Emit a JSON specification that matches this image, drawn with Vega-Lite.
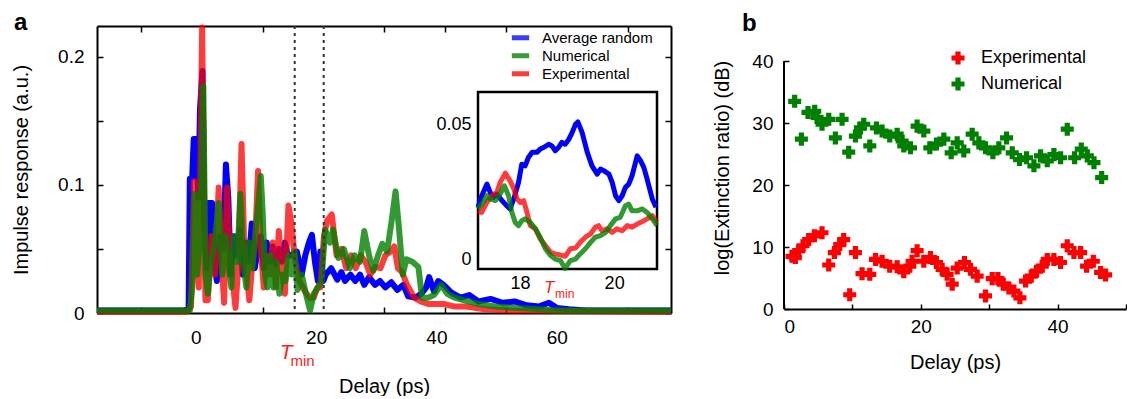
{
"$schema": "https://vega.github.io/schema/vega-lite/v6.json",
"background": "white",
"padding": {"left": 11, "top": 10, "right": 0, "bottom": 0},
"bounds": "flush",
"spacing": 113,
"config": {
  "font": "Liberation Sans",
  "view": {"stroke": null},
  "axis": {"domainColor": "black", "domainWidth": 2, "tickColor": "black", "tickWidth": 1.5, "labelColor": "black", "titleColor": "black", "labelFontSize": 19, "titleFontSize": 20, "titleFontWeight": "normal", "grid": false, "labelFont": "Liberation Sans", "titleFont": "Liberation Sans"},
  "legend": {"labelFont": "Liberation Sans", "labelColor": "black"},
  "title": {"font": "Liberation Sans", "color": "black"}
},
"datasets": {
  "curves": [
    {"delay":-16.43,"value":0.002,"series":"Average random"},{"delay":-2,"value":0.002,"series":"Average random"},{"delay":-1.2,"value":0.003,"series":"Average random"},{"delay":-1.0,"value":0.105,"series":"Average random"},{"delay":-0.6,"value":0.106,"series":"Average random"},{"delay":-0.35,"value":0.136,"series":"Average random"},{"delay":0.1,"value":0.136,"series":"Average random"},{"delay":0.4,"value":0.09,"series":"Average random"},{"delay":0.7,"value":0.16,"series":"Average random"},{"delay":1.1,"value":0.189,"series":"Average random"},{"delay":1.4,"value":0.07,"series":"Average random"},{"delay":1.8,"value":0.035,"series":"Average random"},{"delay":2.1,"value":0.086,"series":"Average random"},{"delay":2.7,"value":0.086,"series":"Average random"},{"delay":3.0,"value":0.04,"series":"Average random"},{"delay":3.5,"value":0.025,"series":"Average random"},{"delay":4.0,"value":0.06,"series":"Average random"},{"delay":4.6,"value":0.05,"series":"Average random"},{"delay":5.0,"value":0.116,"series":"Average random"},{"delay":5.4,"value":0.09,"series":"Average random"},{"delay":5.8,"value":0.03,"series":"Average random"},{"delay":6.3,"value":0.06,"series":"Average random"},{"delay":6.8,"value":0.045,"series":"Average random"},{"delay":7.3,"value":0.065,"series":"Average random"},{"delay":7.8,"value":0.03,"series":"Average random"},{"delay":8.3,"value":0.055,"series":"Average random"},{"delay":8.8,"value":0.04,"series":"Average random"},{"delay":9.3,"value":0.07,"series":"Average random"},{"delay":9.8,"value":0.035,"series":"Average random"},{"delay":10.3,"value":0.05,"series":"Average random"},{"delay":10.8,"value":0.06,"series":"Average random"},{"delay":11.3,"value":0.035,"series":"Average random"},{"delay":11.8,"value":0.055,"series":"Average random"},{"delay":12.3,"value":0.04,"series":"Average random"},{"delay":12.8,"value":0.052,"series":"Average random"},{"delay":13.3,"value":0.038,"series":"Average random"},{"delay":13.8,"value":0.05,"series":"Average random"},{"delay":14.3,"value":0.04,"series":"Average random"},{"delay":14.8,"value":0.055,"series":"Average random"},{"delay":15.3,"value":0.045,"series":"Average random"},{"delay":15.8,"value":0.045,"series":"Average random"},{"delay":16.8,"value":0.048,"series":"Average random"},{"delay":17.6,"value":0.03,"series":"Average random"},{"delay":18.2,"value":0.045,"series":"Average random"},{"delay":18.8,"value":0.055,"series":"Average random"},{"delay":19.3,"value":0.061,"series":"Average random"},{"delay":19.8,"value":0.04,"series":"Average random"},{"delay":20.3,"value":0.025,"series":"Average random"},{"delay":20.7,"value":0.048,"series":"Average random"},{"delay":21.2,"value":0.025,"series":"Average random"},{"delay":21.6,"value":0.03,"series":"Average random"},{"delay":22.5,"value":0.035,"series":"Average random"},{"delay":23.5,"value":0.026,"series":"Average random"},{"delay":24.2,"value":0.032,"series":"Average random"},{"delay":24.8,"value":0.025,"series":"Average random"},{"delay":25.7,"value":0.03,"series":"Average random"},{"delay":26.5,"value":0.025,"series":"Average random"},{"delay":27.3,"value":0.03,"series":"Average random"},{"delay":28.0,"value":0.022,"series":"Average random"},{"delay":28.8,"value":0.028,"series":"Average random"},{"delay":29.8,"value":0.022,"series":"Average random"},{"delay":30.6,"value":0.025,"series":"Average random"},{"delay":31.5,"value":0.02,"series":"Average random"},{"delay":32.5,"value":0.024,"series":"Average random"},{"delay":33.5,"value":0.018,"series":"Average random"},{"delay":34.5,"value":0.022,"series":"Average random"},{"delay":35.3,"value":0.013,"series":"Average random"},{"delay":36.5,"value":0.012,"series":"Average random"},{"delay":37.5,"value":0.015,"series":"Average random"},{"delay":38.3,"value":0.02,"series":"Average random"},{"delay":38.8,"value":0.028,"series":"Average random"},{"delay":39.6,"value":0.017,"series":"Average random"},{"delay":40.3,"value":0.025,"series":"Average random"},{"delay":41.2,"value":0.022,"series":"Average random"},{"delay":42.5,"value":0.016,"series":"Average random"},{"delay":44,"value":0.012,"series":"Average random"},{"delay":45.5,"value":0.014,"series":"Average random"},{"delay":47,"value":0.009,"series":"Average random"},{"delay":49,"value":0.011,"series":"Average random"},{"delay":51,"value":0.008,"series":"Average random"},{"delay":53,"value":0.009,"series":"Average random"},{"delay":55,"value":0.006,"series":"Average random"},{"delay":57,"value":0.005,"series":"Average random"},{"delay":58.7,"value":0.008,"series":"Average random"},{"delay":60,"value":0.004,"series":"Average random"},{"delay":62,"value":0.003,"series":"Average random"},{"delay":65,"value":0.002,"series":"Average random"},{"delay":79,"value":0.002,"series":"Average random"},
    {"delay":-16.43,"value":0.001,"series":"Experimental"},{"delay":-1.5,"value":0.001,"series":"Experimental"},{"delay":-0.8,"value":0.005,"series":"Experimental"},{"delay":-0.5,"value":0.06,"series":"Experimental"},{"delay":-0.3,"value":0.103,"series":"Experimental"},{"delay":0.1,"value":0.04,"series":"Experimental"},{"delay":0.5,"value":0.02,"series":"Experimental"},{"delay":0.85,"value":0.15,"series":"Experimental"},{"delay":1.05,"value":0.223,"series":"Experimental"},{"delay":1.3,"value":0.12,"series":"Experimental"},{"delay":1.6,"value":0.01,"series":"Experimental"},{"delay":2.0,"value":0.01,"series":"Experimental"},{"delay":2.6,"value":0.06,"series":"Experimental"},{"delay":3.2,"value":0.03,"series":"Experimental"},{"delay":3.8,"value":0.098,"series":"Experimental"},{"delay":4.3,"value":0.04,"series":"Experimental"},{"delay":4.7,"value":0.008,"series":"Experimental"},{"delay":5.2,"value":0.098,"series":"Experimental"},{"delay":5.6,"value":0.05,"series":"Experimental"},{"delay":6.0,"value":0.03,"series":"Experimental"},{"delay":6.6,"value":0.004,"series":"Experimental"},{"delay":7.1,"value":0.04,"series":"Experimental"},{"delay":7.6,"value":0.132,"series":"Experimental"},{"delay":8.0,"value":0.06,"series":"Experimental"},{"delay":8.5,"value":0.03,"series":"Experimental"},{"delay":8.9,"value":0.01,"series":"Experimental"},{"delay":9.4,"value":0.04,"series":"Experimental"},{"delay":9.9,"value":0.06,"series":"Experimental"},{"delay":10.35,"value":0.111,"series":"Experimental"},{"delay":10.8,"value":0.05,"series":"Experimental"},{"delay":11.3,"value":0.02,"series":"Experimental"},{"delay":11.8,"value":0.045,"series":"Experimental"},{"delay":12.3,"value":0.03,"series":"Experimental"},{"delay":12.8,"value":0.055,"series":"Experimental"},{"delay":13.3,"value":0.02,"series":"Experimental"},{"delay":13.8,"value":0.064,"series":"Experimental"},{"delay":14.3,"value":0.035,"series":"Experimental"},{"delay":14.8,"value":0.015,"series":"Experimental"},{"delay":15.4,"value":0.084,"series":"Experimental"},{"delay":15.9,"value":0.07,"series":"Experimental"},{"delay":16.5,"value":0.041,"series":"Experimental"},{"delay":17.2,"value":0.025,"series":"Experimental"},{"delay":18.0,"value":0.018,"series":"Experimental"},{"delay":18.9,"value":0.012,"series":"Experimental"},{"delay":19.6,"value":0.012,"series":"Experimental"},{"delay":20.2,"value":0.02,"series":"Experimental"},{"delay":20.7,"value":0.02,"series":"Experimental"},{"delay":21.3,"value":0.06,"series":"Experimental"},{"delay":21.8,"value":0.072,"series":"Experimental"},{"delay":22.6,"value":0.077,"series":"Experimental"},{"delay":23.4,"value":0.045,"series":"Experimental"},{"delay":24.2,"value":0.05,"series":"Experimental"},{"delay":25.0,"value":0.035,"series":"Experimental"},{"delay":25.8,"value":0.045,"series":"Experimental"},{"delay":26.6,"value":0.035,"series":"Experimental"},{"delay":27.4,"value":0.045,"series":"Experimental"},{"delay":28.2,"value":0.04,"series":"Experimental"},{"delay":29.0,"value":0.03,"series":"Experimental"},{"delay":29.8,"value":0.036,"series":"Experimental"},{"delay":30.7,"value":0.035,"series":"Experimental"},{"delay":31.5,"value":0.045,"series":"Experimental"},{"delay":32.4,"value":0.048,"series":"Experimental"},{"delay":33.0,"value":0.052,"series":"Experimental"},{"delay":33.6,"value":0.035,"series":"Experimental"},{"delay":34.3,"value":0.032,"series":"Experimental"},{"delay":35.1,"value":0.022,"series":"Experimental"},{"delay":35.6,"value":0.018,"series":"Experimental"},{"delay":36.3,"value":0.012,"series":"Experimental"},{"delay":37.4,"value":0.009,"series":"Experimental"},{"delay":38.6,"value":0.007,"series":"Experimental"},{"delay":40,"value":0.007,"series":"Experimental"},{"delay":41.4,"value":0.007,"series":"Experimental"},{"delay":43,"value":0.005,"series":"Experimental"},{"delay":45,"value":0.005,"series":"Experimental"},{"delay":48,"value":0.003,"series":"Experimental"},{"delay":52,"value":0.002,"series":"Experimental"},{"delay":79,"value":0.001,"series":"Experimental"},
    {"delay":-16.43,"value":0.002,"series":"Numerical"},{"delay":-1.0,"value":0.002,"series":"Numerical"},{"delay":-0.6,"value":0.02,"series":"Numerical"},{"delay":-0.2,"value":0.093,"series":"Numerical"},{"delay":0.2,"value":0.03,"series":"Numerical"},{"delay":0.6,"value":0.05,"series":"Numerical"},{"delay":1.0,"value":0.12,"series":"Numerical"},{"delay":1.25,"value":0.177,"series":"Numerical"},{"delay":1.6,"value":0.03,"series":"Numerical"},{"delay":2.0,"value":0.015,"series":"Numerical"},{"delay":2.5,"value":0.04,"series":"Numerical"},{"delay":3.0,"value":0.05,"series":"Numerical"},{"delay":3.8,"value":0.086,"series":"Numerical"},{"delay":4.4,"value":0.03,"series":"Numerical"},{"delay":4.9,"value":0.06,"series":"Numerical"},{"delay":5.4,"value":0.04,"series":"Numerical"},{"delay":5.9,"value":0.02,"series":"Numerical"},{"delay":6.4,"value":0.06,"series":"Numerical"},{"delay":6.9,"value":0.04,"series":"Numerical"},{"delay":7.4,"value":0.093,"series":"Numerical"},{"delay":7.9,"value":0.04,"series":"Numerical"},{"delay":8.4,"value":0.02,"series":"Numerical"},{"delay":8.9,"value":0.055,"series":"Numerical"},{"delay":9.4,"value":0.035,"series":"Numerical"},{"delay":9.9,"value":0.06,"series":"Numerical"},{"delay":10.8,"value":0.107,"series":"Numerical"},{"delay":11.1,"value":0.08,"series":"Numerical"},{"delay":11.5,"value":0.03,"series":"Numerical"},{"delay":11.9,"value":0.02,"series":"Numerical"},{"delay":12.4,"value":0.045,"series":"Numerical"},{"delay":12.9,"value":0.02,"series":"Numerical"},{"delay":13.4,"value":0.04,"series":"Numerical"},{"delay":13.9,"value":0.015,"series":"Numerical"},{"delay":14.4,"value":0.03,"series":"Numerical"},{"delay":14.9,"value":0.025,"series":"Numerical"},{"delay":15.4,"value":0.045,"series":"Numerical"},{"delay":15.9,"value":0.03,"series":"Numerical"},{"delay":16.4,"value":0.048,"series":"Numerical"},{"delay":16.9,"value":0.018,"series":"Numerical"},{"delay":17.6,"value":0.03,"series":"Numerical"},{"delay":18.3,"value":0.015,"series":"Numerical"},{"delay":19.0,"value":0.002,"series":"Numerical"},{"delay":19.6,"value":0.015,"series":"Numerical"},{"delay":20.3,"value":0.02,"series":"Numerical"},{"delay":20.9,"value":0.025,"series":"Numerical"},{"delay":21.5,"value":0.065,"series":"Numerical"},{"delay":22.3,"value":0.055,"series":"Numerical"},{"delay":22.8,"value":0.065,"series":"Numerical"},{"delay":23.7,"value":0.043,"series":"Numerical"},{"delay":24.6,"value":0.05,"series":"Numerical"},{"delay":25.6,"value":0.035,"series":"Numerical"},{"delay":26.4,"value":0.045,"series":"Numerical"},{"delay":27.3,"value":0.04,"series":"Numerical"},{"delay":28.0,"value":0.064,"series":"Numerical"},{"delay":28.8,"value":0.045,"series":"Numerical"},{"delay":29.5,"value":0.033,"series":"Numerical"},{"delay":30.3,"value":0.045,"series":"Numerical"},{"delay":31.0,"value":0.054,"series":"Numerical"},{"delay":31.8,"value":0.048,"series":"Numerical"},{"delay":32.5,"value":0.07,"series":"Numerical"},{"delay":33.2,"value":0.095,"series":"Numerical"},{"delay":33.8,"value":0.065,"series":"Numerical"},{"delay":34.4,"value":0.03,"series":"Numerical"},{"delay":35.0,"value":0.042,"series":"Numerical"},{"delay":36.0,"value":0.04,"series":"Numerical"},{"delay":37.0,"value":0.036,"series":"Numerical"},{"delay":37.6,"value":0.012,"series":"Numerical"},{"delay":38.6,"value":0.012,"series":"Numerical"},{"delay":39.6,"value":0.014,"series":"Numerical"},{"delay":40.8,"value":0.022,"series":"Numerical"},{"delay":41.8,"value":0.015,"series":"Numerical"},{"delay":43.0,"value":0.012,"series":"Numerical"},{"delay":44.5,"value":0.01,"series":"Numerical"},{"delay":47,"value":0.007,"series":"Numerical"},{"delay":50,"value":0.005,"series":"Numerical"},{"delay":53,"value":0.004,"series":"Numerical"},{"delay":57,"value":0.003,"series":"Numerical"},{"delay":60,"value":0.002,"series":"Numerical"},{"delay":79,"value":0.002,"series":"Numerical"}
  ],
  "inset": [
    {"delay":17.11,"value":0.0194,"series":"Average random"},{"delay":17.19,"value":0.0237,"series":"Average random"},{"delay":17.30,"value":0.028,"series":"Average random"},{"delay":17.37,"value":0.0249,"series":"Average random"},{"delay":17.44,"value":0.0231,"series":"Average random"},{"delay":17.51,"value":0.0243,"series":"Average random"},{"delay":17.62,"value":0.0219,"series":"Average random"},{"delay":17.72,"value":0.02,"series":"Average random"},{"delay":17.79,"value":0.0188,"series":"Average random"},{"delay":17.87,"value":0.0225,"series":"Average random"},{"delay":17.97,"value":0.0286,"series":"Average random"},{"delay":18.04,"value":0.0354,"series":"Average random"},{"delay":18.11,"value":0.0348,"series":"Average random"},{"delay":18.18,"value":0.0379,"series":"Average random"},{"delay":18.26,"value":0.0398,"series":"Average random"},{"delay":18.36,"value":0.0398,"series":"Average random"},{"delay":18.43,"value":0.041,"series":"Average random"},{"delay":18.50,"value":0.0416,"series":"Average random"},{"delay":18.61,"value":0.0428,"series":"Average random"},{"delay":18.68,"value":0.0422,"series":"Average random"},{"delay":18.75,"value":0.0404,"series":"Average random"},{"delay":18.82,"value":0.0416,"series":"Average random"},{"delay":18.89,"value":0.0435,"series":"Average random"},{"delay":18.96,"value":0.0428,"series":"Average random"},{"delay":19.04,"value":0.0447,"series":"Average random"},{"delay":19.11,"value":0.0472,"series":"Average random"},{"delay":19.18,"value":0.0502,"series":"Average random"},{"delay":19.23,"value":0.0511,"series":"Average random"},{"delay":19.32,"value":0.0472,"series":"Average random"},{"delay":19.43,"value":0.0398,"series":"Average random"},{"delay":19.53,"value":0.0348,"series":"Average random"},{"delay":19.64,"value":0.0317,"series":"Average random"},{"delay":19.71,"value":0.0336,"series":"Average random"},{"delay":19.78,"value":0.033,"series":"Average random"},{"delay":19.89,"value":0.0317,"series":"Average random"},{"delay":19.96,"value":0.0286,"series":"Average random"},{"delay":20.03,"value":0.0237,"series":"Average random"},{"delay":20.10,"value":0.0219,"series":"Average random"},{"delay":20.17,"value":0.0237,"series":"Average random"},{"delay":20.24,"value":0.0268,"series":"Average random"},{"delay":20.31,"value":0.028,"series":"Average random"},{"delay":20.38,"value":0.0311,"series":"Average random"},{"delay":20.49,"value":0.0385,"series":"Average random"},{"delay":20.56,"value":0.0367,"series":"Average random"},{"delay":20.63,"value":0.0342,"series":"Average random"},{"delay":20.70,"value":0.0299,"series":"Average random"},{"delay":20.81,"value":0.0225,"series":"Average random"},{"delay":20.89,"value":0.0194,"series":"Average random"},
    {"delay":17.11,"value":0.0181,"series":"Experimental"},{"delay":17.19,"value":0.0175,"series":"Experimental"},{"delay":17.30,"value":0.0212,"series":"Experimental"},{"delay":17.40,"value":0.0237,"series":"Experimental"},{"delay":17.51,"value":0.0249,"series":"Experimental"},{"delay":17.58,"value":0.0286,"series":"Experimental"},{"delay":17.69,"value":0.0321,"series":"Experimental"},{"delay":17.79,"value":0.0293,"series":"Experimental"},{"delay":17.87,"value":0.0262,"series":"Experimental"},{"delay":17.94,"value":0.0225,"series":"Experimental"},{"delay":18.01,"value":0.0212,"series":"Experimental"},{"delay":18.08,"value":0.0219,"series":"Experimental"},{"delay":18.15,"value":0.0175,"series":"Experimental"},{"delay":18.22,"value":0.0126,"series":"Experimental"},{"delay":18.33,"value":0.0114,"series":"Experimental"},{"delay":18.43,"value":0.0077,"series":"Experimental"},{"delay":18.54,"value":0.0052,"series":"Experimental"},{"delay":18.65,"value":0.0027,"series":"Experimental"},{"delay":18.75,"value":0.0021,"series":"Experimental"},{"delay":18.86,"value":0.0017,"series":"Experimental"},{"delay":18.96,"value":0.0012,"series":"Experimental"},{"delay":19.07,"value":0.004,"series":"Experimental"},{"delay":19.18,"value":0.0043,"series":"Experimental"},{"delay":19.28,"value":0.0064,"series":"Experimental"},{"delay":19.39,"value":0.0083,"series":"Experimental"},{"delay":19.50,"value":0.0095,"series":"Experimental"},{"delay":19.60,"value":0.012,"series":"Experimental"},{"delay":19.67,"value":0.0126,"series":"Experimental"},{"delay":19.74,"value":0.0107,"series":"Experimental"},{"delay":19.85,"value":0.0114,"series":"Experimental"},{"delay":19.96,"value":0.0101,"series":"Experimental"},{"delay":20.06,"value":0.0114,"series":"Experimental"},{"delay":20.17,"value":0.0107,"series":"Experimental"},{"delay":20.28,"value":0.0126,"series":"Experimental"},{"delay":20.38,"value":0.012,"series":"Experimental"},{"delay":20.49,"value":0.0132,"series":"Experimental"},{"delay":20.60,"value":0.0141,"series":"Experimental"},{"delay":20.70,"value":0.0151,"series":"Experimental"},{"delay":20.81,"value":0.0163,"series":"Experimental"},{"delay":20.91,"value":0.0138,"series":"Experimental"},
    {"delay":17.11,"value":0.0188,"series":"Numerical"},{"delay":17.19,"value":0.0206,"series":"Numerical"},{"delay":17.30,"value":0.0237,"series":"Numerical"},{"delay":17.37,"value":0.0225,"series":"Numerical"},{"delay":17.48,"value":0.0219,"series":"Numerical"},{"delay":17.58,"value":0.0243,"series":"Numerical"},{"delay":17.67,"value":0.0274,"series":"Numerical"},{"delay":17.76,"value":0.0237,"series":"Numerical"},{"delay":17.83,"value":0.0175,"series":"Numerical"},{"delay":17.90,"value":0.0138,"series":"Numerical"},{"delay":17.97,"value":0.0126,"series":"Numerical"},{"delay":18.04,"value":0.0144,"series":"Numerical"},{"delay":18.11,"value":0.0151,"series":"Numerical"},{"delay":18.22,"value":0.0138,"series":"Numerical"},{"delay":18.33,"value":0.0114,"series":"Numerical"},{"delay":18.43,"value":0.0083,"series":"Numerical"},{"delay":18.54,"value":0.004,"series":"Numerical"},{"delay":18.65,"value":0.0015,"series":"Numerical"},{"delay":18.75,"value":0.0002,"series":"Numerical"},{"delay":18.86,"value":-0.0004,"series":"Numerical"},{"delay":18.96,"value":-0.0033,"series":"Numerical"},{"delay":19.07,"value":-0.0004,"series":"Numerical"},{"delay":19.18,"value":0.0002,"series":"Numerical"},{"delay":19.28,"value":0.0021,"series":"Numerical"},{"delay":19.39,"value":0.004,"series":"Numerical"},{"delay":19.50,"value":0.0064,"series":"Numerical"},{"delay":19.60,"value":0.0083,"series":"Numerical"},{"delay":19.71,"value":0.0089,"series":"Numerical"},{"delay":19.82,"value":0.0101,"series":"Numerical"},{"delay":19.92,"value":0.0126,"series":"Numerical"},{"delay":20.03,"value":0.0151,"series":"Numerical"},{"delay":20.13,"value":0.0157,"series":"Numerical"},{"delay":20.24,"value":0.02,"series":"Numerical"},{"delay":20.31,"value":0.0206,"series":"Numerical"},{"delay":20.38,"value":0.0181,"series":"Numerical"},{"delay":20.49,"value":0.0181,"series":"Numerical"},{"delay":20.60,"value":0.0188,"series":"Numerical"},{"delay":20.70,"value":0.0175,"series":"Numerical"},{"delay":20.81,"value":0.0151,"series":"Numerical"},{"delay":20.91,"value":0.0126,"series":"Numerical"}
  ],
  "ratio": [
    {"delay":1.17,"db":8.5,"series":"Experimental"},{"delay":1.66,"db":8.3,"series":"Experimental"},{"delay":2.15,"db":9.4,"series":"Experimental"},{"delay":2.78,"db":10.2,"series":"Experimental"},{"delay":3.61,"db":11.2,"series":"Experimental"},{"delay":4.44,"db":11.8,"series":"Experimental"},{"delay":5.56,"db":12.3,"series":"Experimental"},{"delay":6.54,"db":7.1,"series":"Experimental"},{"delay":7.37,"db":9.1,"series":"Experimental"},{"delay":8.15,"db":10.4,"series":"Experimental"},{"delay":8.73,"db":11.2,"series":"Experimental"},{"delay":9.61,"db":2.3,"series":"Experimental"},{"delay":10.44,"db":9.1,"series":"Experimental"},{"delay":11.41,"db":5.7,"series":"Experimental"},{"delay":12.54,"db":5.6,"series":"Experimental"},{"delay":13.37,"db":8.0,"series":"Experimental"},{"delay":14.34,"db":7.7,"series":"Experimental"},{"delay":15.46,"db":6.9,"series":"Experimental"},{"delay":16.54,"db":6.8,"series":"Experimental"},{"delay":17.51,"db":6.0,"series":"Experimental"},{"delay":18.39,"db":6.9,"series":"Experimental"},{"delay":18.73,"db":7.7,"series":"Experimental"},{"delay":19.46,"db":9.4,"series":"Experimental"},{"delay":20.44,"db":7.7,"series":"Experimental"},{"delay":21.41,"db":8.3,"series":"Experimental"},{"delay":22.29,"db":7.5,"series":"Experimental"},{"delay":23.12,"db":6.4,"series":"Experimental"},{"delay":23.85,"db":5.6,"series":"Experimental"},{"delay":24.59,"db":4.0,"series":"Experimental"},{"delay":25.32,"db":6.6,"series":"Experimental"},{"delay":26.39,"db":7.5,"series":"Experimental"},{"delay":27.27,"db":6.4,"series":"Experimental"},{"delay":28.24,"db":5.3,"series":"Experimental"},{"delay":29.46,"db":2.1,"series":"Experimental"},{"delay":30.44,"db":4.9,"series":"Experimental"},{"delay":31.27,"db":4.9,"series":"Experimental"},{"delay":32.05,"db":4.0,"series":"Experimental"},{"delay":32.88,"db":3.4,"series":"Experimental"},{"delay":33.61,"db":2.9,"series":"Experimental"},{"delay":34.49,"db":1.8,"series":"Experimental"},{"delay":35.32,"db":4.5,"series":"Experimental"},{"delay":36.15,"db":5.3,"series":"Experimental"},{"delay":36.93,"db":6.1,"series":"Experimental"},{"delay":37.76,"db":6.9,"series":"Experimental"},{"delay":38.49,"db":8.0,"series":"Experimental"},{"delay":39.46,"db":8.0,"series":"Experimental"},{"delay":40.44,"db":7.5,"series":"Experimental"},{"delay":41.41,"db":10.2,"series":"Experimental"},{"delay":42.39,"db":9.1,"series":"Experimental"},{"delay":43.37,"db":9.1,"series":"Experimental"},{"delay":44.24,"db":6.9,"series":"Experimental"},{"delay":45.22,"db":7.7,"series":"Experimental"},{"delay":46.29,"db":5.9,"series":"Experimental"},{"delay":47.02,"db":5.5,"series":"Experimental"},
    {"delay":1.56,"db":33.5,"series":"Numerical"},{"delay":2.54,"db":27.4,"series":"Numerical"},{"delay":3.51,"db":31.7,"series":"Numerical"},{"delay":4.49,"db":31.9,"series":"Numerical"},{"delay":4.83,"db":30.9,"series":"Numerical"},{"delay":5.56,"db":29.8,"series":"Numerical"},{"delay":6.54,"db":30.6,"series":"Numerical"},{"delay":7.51,"db":27.6,"series":"Numerical"},{"delay":8.49,"db":30.6,"series":"Numerical"},{"delay":9.46,"db":25.3,"series":"Numerical"},{"delay":10.44,"db":27.9,"series":"Numerical"},{"delay":11.17,"db":29.2,"series":"Numerical"},{"delay":11.66,"db":29.8,"series":"Numerical"},{"delay":12.54,"db":26.3,"series":"Numerical"},{"delay":13.51,"db":29.2,"series":"Numerical"},{"delay":14.34,"db":28.7,"series":"Numerical"},{"delay":15.46,"db":27.9,"series":"Numerical"},{"delay":16.54,"db":28.2,"series":"Numerical"},{"delay":17.27,"db":27.1,"series":"Numerical"},{"delay":17.51,"db":26.3,"series":"Numerical"},{"delay":18.49,"db":26.0,"series":"Numerical"},{"delay":19.46,"db":29.5,"series":"Numerical"},{"delay":20.44,"db":28.7,"series":"Numerical"},{"delay":21.32,"db":26.0,"series":"Numerical"},{"delay":22.29,"db":26.6,"series":"Numerical"},{"delay":23.37,"db":27.4,"series":"Numerical"},{"delay":24.44,"db":25.2,"series":"Numerical"},{"delay":25.32,"db":26.8,"series":"Numerical"},{"delay":26.29,"db":25.5,"series":"Numerical"},{"delay":27.51,"db":28.2,"series":"Numerical"},{"delay":28.49,"db":26.8,"series":"Numerical"},{"delay":29.46,"db":26.0,"series":"Numerical"},{"delay":30.54,"db":25.2,"series":"Numerical"},{"delay":31.41,"db":26.0,"series":"Numerical"},{"delay":32.54,"db":27.6,"series":"Numerical"},{"delay":33.37,"db":25.2,"series":"Numerical"},{"delay":34.44,"db":24.1,"series":"Numerical"},{"delay":35.46,"db":24.4,"series":"Numerical"},{"delay":36.54,"db":23.1,"series":"Numerical"},{"delay":37.51,"db":24.7,"series":"Numerical"},{"delay":38.49,"db":23.9,"series":"Numerical"},{"delay":39.46,"db":24.9,"series":"Numerical"},{"delay":40.44,"db":24.4,"series":"Numerical"},{"delay":41.41,"db":29.0,"series":"Numerical"},{"delay":42.49,"db":24.4,"series":"Numerical"},{"delay":43.46,"db":25.8,"series":"Numerical"},{"delay":44.34,"db":24.7,"series":"Numerical"},{"delay":45.32,"db":23.6,"series":"Numerical"},{"delay":46.44,"db":21.2,"series":"Numerical"}
  ],
  "tlines": [{"delay": 16.44}, {"delay": 21.26}],
  "one": [{"k": 1}]
},
"hconcat": [
  {
    "width": 574, "height": 287,
    "title": {"text": "a", "anchor": "start", "frame": "group", "fontSize": 24, "fontWeight": "bold", "dx": -83, "offset": -10},
    "layer": [
      {
        "data": {"name": "curves"},
        "layer": [
          {
            "transform": [{"filter": "datum.series == 'Average random'"}],
            "mark": {"type": "line", "strokeWidth": 6, "strokeJoin": "round", "clip": false},
            "encoding": {
              "x": {"field": "delay", "type": "quantitative", "scale": {"domain": [-16.43, 79.0], "nice": false, "zero": false},
                    "axis": {"orient": "bottom", "values": [0, 20, 40, 60], "ticks": false, "tickSize": 0, "labelPadding": 15, "domain": true, "title": "Delay (ps)", "titlePadding": 29, "format": "d"}},
              "y": {"field": "value", "type": "quantitative", "scale": {"domain": [0, 0.2242], "nice": false, "zero": false},
                    "axis": {"orient": "left", "values": [0, 0.05, 0.1, 0.15, 0.2], "format": "~g", "labelExpr": "round(datum.value*100) % 10 == 0 ? datum.label : ''", "tickSize": -6, "labelPadding": 19, "domain": true, "title": "Impulse response (a.u.)", "titlePadding": 26}},
              "color": {"field": "series", "type": "nominal",
                        "scale": {"domain": ["Average random", "Numerical", "Experimental"], "range": ["#0000FF", "#008000", "#FF0000"]},
                        "legend": {"orient": "none", "legendX": 412, "legendY": 3, "title": null, "symbolType": "stroke", "symbolStrokeWidth": 5, "symbolSize": 300, "labelFontSize": 15, "labelOffset": 10, "rowPadding": 0, "clipHeight": 17.5}}
            }
          },
          {
            "transform": [{"filter": "datum.series == 'Experimental'"}],
            "mark": {"type": "line", "strokeWidth": 6, "strokeJoin": "round", "opacity": 0.77, "clip": false},
            "encoding": {
              "x": {"field": "delay", "type": "quantitative", "scale": {"domain": [-16.43, 79.0], "nice": false, "zero": false},
                    "axis": {"orient": "bottom", "values": [-9.11, 11.17, 31.29, 41.43, 51.57, 71.85], "labels": false, "domain": false, "tickSize": -6, "title": null}},
              "y": {"field": "value", "type": "quantitative", "scale": {"domain": [0, 0.2242], "nice": false, "zero": false},
                    "axis": {"orient": "right", "values": [0, 0.05, 0.1, 0.15, 0.2], "labels": false, "tickSize": -6, "domain": true, "title": null}},
              "color": {"field": "series", "type": "nominal"}
            }
          },
          {
            "transform": [{"filter": "datum.series == 'Numerical'"}],
            "mark": {"type": "line", "strokeWidth": 6, "strokeJoin": "round", "opacity": 0.8, "clip": false},
            "encoding": {
              "x": {"field": "delay", "type": "quantitative", "scale": {"domain": [-16.43, 79.0], "nice": false, "zero": false},
                    "axis": {"orient": "top", "values": [-9.11, 11.17, 31.29, 41.43, 51.57, 71.85], "labels": false, "domain": true, "tickSize": -6, "title": null}},
              "y": {"field": "value", "type": "quantitative", "scale": {"domain": [0, 0.2242], "nice": false, "zero": false}, "axis": null},
              "color": {"field": "series", "type": "nominal"}
            }
          },
          {
            "data": {"name": "tlines"},
            "mark": {"type": "rule", "strokeDash": [3, 4], "strokeWidth": 2, "color": "#333333"},
            "encoding": {
              "x": {"field": "delay", "type": "quantitative", "scale": {"domain": [-16.43, 79.0], "nice": false, "zero": false}, "axis": null}
            }
          },
          {
            "data": {"name": "one"},
            "mark": {"type": "text", "text": "T", "fontStyle": "italic", "fontSize": 21, "color": "#FF2020", "dy": 40, "font": "Liberation Sans"},
            "encoding": {
              "x": {"datum": 15.0, "type": "quantitative", "scale": {"domain": [-16.43, 79.0], "nice": false, "zero": false}, "axis": null},
              "y": {"datum": 0, "type": "quantitative", "scale": {"domain": [0, 0.2242], "nice": false, "zero": false}, "axis": null}
            }
          },
          {
            "data": {"name": "one"},
            "mark": {"type": "text", "text": "min", "fontSize": 15, "color": "#FF2020", "dy": 48, "font": "Liberation Sans"},
            "encoding": {
              "x": {"datum": 17.75, "type": "quantitative", "scale": {"domain": [-16.43, 79.0], "nice": false, "zero": false}, "axis": null},
              "y": {"datum": 0, "type": "quantitative", "scale": {"domain": [0, 0.2242], "nice": false, "zero": false}, "axis": null}
            }
          }
        ],
        "resolve": {"axis": {"x": "independent", "y": "independent"}}
      },
      {
        "layer": [
          {
            "data": {"name": "one"},
            "mark": {"type": "rect", "fill": "white", "stroke": "black", "strokeWidth": 2.5},
            "encoding": {
              "x": {"datum": 17.11, "type": "quantitative", "scale": {"domain": [17.11, 20.91], "range": [381, 560], "nice": false, "zero": false},
                    "axis": {"orient": "bottom", "offset": -44, "values": [17.25, 17.5, 17.75, 18, 18.25, 18.5, 18.75, 19, 19.25, 19.5, 19.75, 20, 20.25, 20.5, 20.75], "format": "~g", "labelExpr": "datum.value == 18 || datum.value == 20 ? datum.label : ''", "labelFontSize": 18, "tickSize": -5, "labelPadding": 10, "domain": false, "title": null}},
              "x2": {"datum": 20.91},
              "y": {"datum": -0.0035, "type": "quantitative", "scale": {"domain": [-0.0035, 0.0622], "range": [243, 66], "nice": false, "zero": false},
                    "axis": {"orient": "left", "offset": -381, "values": [0, 0.01, 0.02, 0.03, 0.04, 0.05, 0.06], "format": "~g", "labelExpr": "datum.value == 0 || datum.value == 0.05 ? datum.label : ''", "labelFontSize": 18, "tickSize": -5, "labelPadding": 12, "domain": false, "title": null}},
              "y2": {"datum": 0.0622}
            }
          },
          {
            "data": {"name": "inset"},
            "transform": [{"filter": "datum.series == 'Average random'"}],
            "mark": {"type": "line", "strokeWidth": 5, "strokeJoin": "round"},
            "encoding": {
              "x": {"field": "delay", "type": "quantitative", "scale": {"domain": [17.11, 20.91], "range": [381, 560], "nice": false, "zero": false},
                    "axis": {"orient": "top", "offset": -66, "values": [17.25, 17.5, 17.75, 18, 18.25, 18.5, 18.75, 19, 19.25, 19.5, 19.75, 20, 20.25, 20.5, 20.75], "labels": false, "tickSize": -5, "domain": false, "title": null}},
              "y": {"field": "value", "type": "quantitative", "scale": {"domain": [-0.0035, 0.0622], "range": [243, 66], "nice": false, "zero": false},
                    "axis": {"orient": "right", "offset": -14, "values": [0, 0.01, 0.02, 0.03, 0.04, 0.05, 0.06], "labels": false, "tickSize": -5, "domain": false, "title": null}},
              "color": {"field": "series", "type": "nominal"}
            }
          },
          {
            "data": {"name": "inset"},
            "transform": [{"filter": "datum.series == 'Experimental'"}],
            "mark": {"type": "line", "strokeWidth": 5, "strokeJoin": "round", "opacity": 0.77},
            "encoding": {
              "x": {"field": "delay", "type": "quantitative", "scale": {"domain": [17.11, 20.91], "range": [381, 560], "nice": false, "zero": false}, "axis": null},
              "y": {"field": "value", "type": "quantitative", "scale": {"domain": [-0.0035, 0.0622], "range": [243, 66], "nice": false, "zero": false}, "axis": null},
              "color": {"field": "series", "type": "nominal"}
            }
          },
          {
            "data": {"name": "inset"},
            "transform": [{"filter": "datum.series == 'Numerical'"}],
            "mark": {"type": "line", "strokeWidth": 5, "strokeJoin": "round", "opacity": 0.8},
            "encoding": {
              "x": {"field": "delay", "type": "quantitative", "scale": {"domain": [17.11, 20.91], "range": [381, 560], "nice": false, "zero": false}, "axis": null},
              "y": {"field": "value", "type": "quantitative", "scale": {"domain": [-0.0035, 0.0622], "range": [243, 66], "nice": false, "zero": false}, "axis": null},
              "color": {"field": "series", "type": "nominal"}
            }
          },
          {
            "data": {"name": "one"},
            "mark": {"type": "text", "text": "T", "fontStyle": "italic", "fontSize": 17, "color": "#FF2020", "dy": 19, "font": "Liberation Sans"},
            "encoding": {
              "x": {"datum": 18.62, "type": "quantitative", "scale": {"domain": [17.11, 20.91], "range": [381, 560], "nice": false, "zero": false}, "axis": null},
              "y": {"datum": -0.0035, "type": "quantitative", "scale": {"domain": [-0.0035, 0.0622], "range": [243, 66], "nice": false, "zero": false}, "axis": null}
            }
          },
          {
            "data": {"name": "one"},
            "mark": {"type": "text", "text": "min", "fontSize": 12, "color": "#FF2020", "dy": 25, "font": "Liberation Sans"},
            "encoding": {
              "x": {"datum": 18.95, "type": "quantitative", "scale": {"domain": [17.11, 20.91], "range": [381, 560], "nice": false, "zero": false}, "axis": null},
              "y": {"datum": -0.0035, "type": "quantitative", "scale": {"domain": [-0.0035, 0.0622], "range": [243, 66], "nice": false, "zero": false}, "axis": null}
            }
          }
        ],
        "resolve": {"axis": {"x": "independent", "y": "independent"}}
      }
    ],
    "resolve": {"scale": {"x": "independent", "y": "independent"}, "axis": {"x": "independent", "y": "independent"}}
  },
  {
    "width": 342, "height": 283,
    "title": {"text": "b", "anchor": "start", "frame": "group", "fontSize": 24, "fontWeight": "bold", "dx": -42, "offset": -10},
    "layer": [
      {
        "data": {"name": "one"},
        "mark": {"type": "rule", "strokeWidth": 2, "color": "black"},
        "encoding": {
          "x": {"datum": 0, "type": "quantitative", "scale": {"domain": [0, 50], "nice": false, "zero": false}},
          "y": {"datum": 0, "type": "quantitative", "scale": {"domain": [0, 45.65], "nice": false, "zero": false}},
          "y2": {"datum": 40}
        }
      },
      {
        "data": {"name": "ratio"},
        "mark": {"type": "point", "shape": "cross", "filled": true, "size": 170, "opacity": 1},
        "encoding": {
          "x": {"field": "delay", "type": "quantitative", "scale": {"domain": [0, 50], "nice": false, "zero": false},
                "axis": {"values": [0, 10, 20, 30, 40, 50], "format": "d", "labelExpr": "datum.value % 20 == 0 ? datum.label : ''", "tickSize": -5, "labelPadding": 13, "domain": true, "title": "Delay (ps)", "titlePadding": 16}},
          "y": {"field": "db", "type": "quantitative", "scale": {"domain": [0, 45.65], "nice": false, "zero": false},
                "axis": {"values": [0, 10, 20, 30, 40], "format": "d", "tickSize": -5, "labelPadding": 16, "domain": false, "title": "log(Extinction ratio) (dB)", "titlePadding": 19}},
          "color": {"field": "series", "type": "nominal",
                    "scale": {"domain": ["Experimental", "Numerical"], "range": ["#FF0000", "#008000"]},
                    "legend": {"orient": "none", "legendX": 165, "legendY": 23, "title": null, "symbolType": "cross", "symbolSize": 170, "labelFontSize": 18, "labelOffset": 14, "rowPadding": 8}}
        }
      }
    ]
  }
],
"resolve": {"scale": {"color": "independent"}}
}
